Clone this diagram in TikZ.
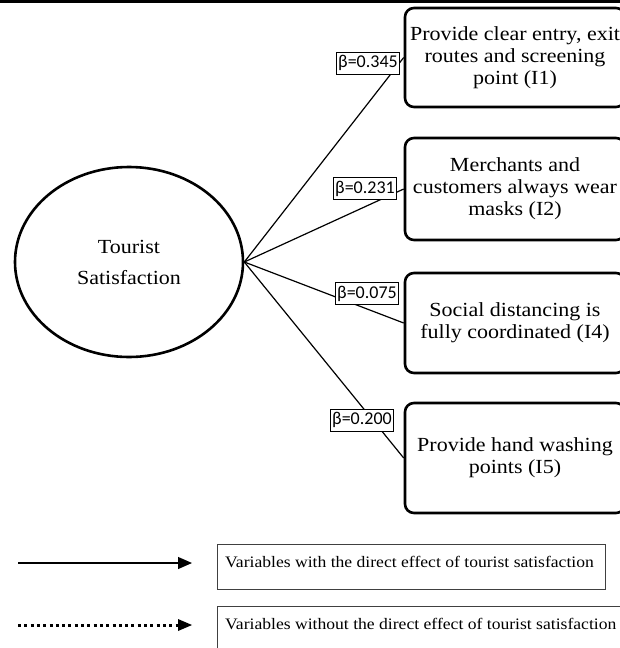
\documentclass[tikz,border=0pt]{standalone}
\usepackage{fontspec}
\setmainfont{Liberation Serif}
\newfontfamily\boxfont[FakeStretch=1.1]{Liberation Serif}
\newfontfamily\betafont{Carlito}
\usetikzlibrary{shapes.geometric,arrows.meta}
\begin{document}
\begin{tikzpicture}[x=1pt,y=-1pt,
  item/.style={draw, line width=2.6pt, rounded corners=9pt, minimum width=220pt,
    align=center, font=\boxfont\fontsize{20}{22}\selectfont, inner sep=0pt},
  coef/.style={draw, line width=0.6pt, fill=white,
    font=\betafont\fontsize{18}{20}\selectfont, inner xsep=2pt, inner ysep=3.5pt},
  link/.style={line width=1.2pt},
  legbox/.style={draw=black!75, line width=1pt, inner sep=0pt},
  legtext/.style={font=\boxfont\fontsize{16}{18}\selectfont, inner sep=0pt, anchor=base west}]
\useasboundingbox (0,0) rectangle (620,648);
\clip (0,0) rectangle (620,648);
\fill (0,0) rectangle (620,2.7);

\node[ellipse, draw, line width=2.6pt, minimum width=228pt, minimum height=190pt,
  inner sep=0pt, align=center, font=\boxfont\fontsize{20}{31}\selectfont] (ts) at (129,262) {Tourist\\Satisfaction};

\node[item, minimum height=99pt]  (i1) at (515,57.5) {Provide clear entry, exit\\routes and screening\\point (I1)};
\node[item, minimum height=102pt] (i2) at (515,189) {Merchants and\\customers always wear\\masks (I2)};
\node[item, minimum height=100pt] (i4) at (515,323) {Social distancing is\\fully coordinated (I4)};
\node[item, minimum height=110pt] (i5) at (515,458) {Provide hand washing\\points (I5)};

\draw[link] (ts.east) -- (i1.west);
\draw[link] (ts.east) -- (i2.west);
\draw[link] (ts.east) -- (i4.west);
\draw[link] (ts.east) -- (i5.west);

\node[coef] (c1) at (368,63)    {β=0.345};
\node[coef] (c2) at (365,188.5) {β=0.231};
\node[coef] (c4) at (367,293.5) {β=0.075};
\node[coef] (c5) at (362,420)   {β=0.200};

\coordinate (s1) at (18,563);
\coordinate (s2) at (192,563);
\coordinate (d1) at (18,625);
\coordinate (d2) at (192,625);
\draw[link, -{Triangle[length=14pt,width=12pt]}] (s1) -- (s2);
\draw[line width=3pt, dash pattern=on 3pt off 3.3pt, -{Triangle[length=14pt,width=12pt,line width=0pt]}] (d1) -- (d2);

\node[legbox, minimum width=388pt, minimum height=45pt] (b1) at (411,566.5) {};
\node[legbox, minimum width=423pt, minimum height=54pt] (b2) at (428.5,633) {};
\node[legtext] (t1) at (225,567) {Variables with the direct effect of tourist satisfaction};
\node[legtext] (t2) at (225,629) {Variables without the direct effect of tourist satisfaction};
\end{tikzpicture}
\end{document}
